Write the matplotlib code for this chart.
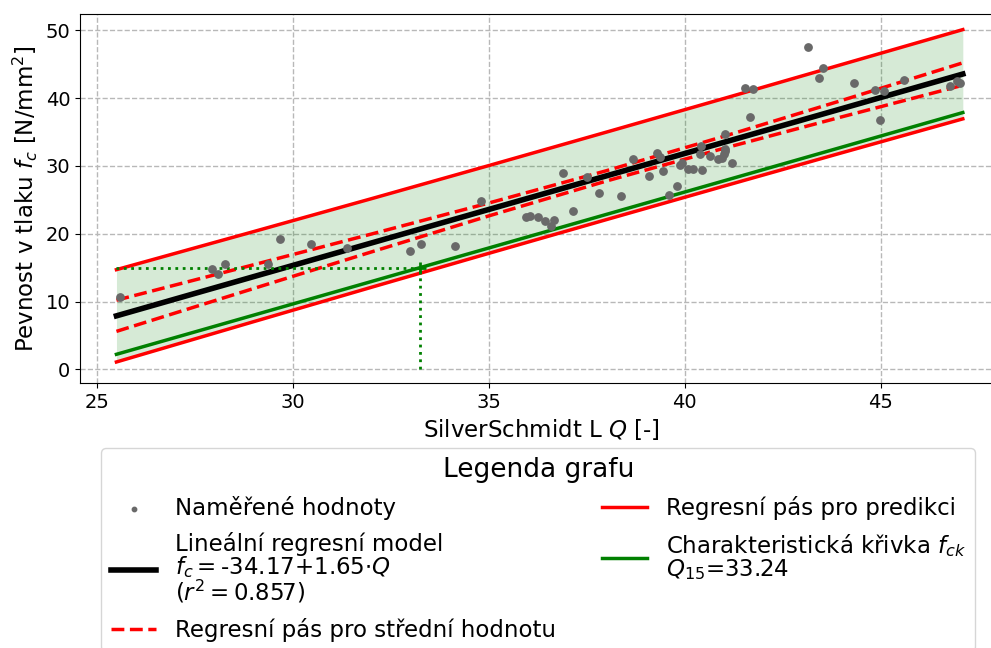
import matplotlib
matplotlib.use("Agg")
import matplotlib.pyplot as plt

# measured points (SilverSchmidt Q, compressive strength fc)
q_meas = [25.60, 27.93, 28.08, 28.28, 29.37, 29.67, 30.46, 31.38, 32.98, 33.28,
          34.14, 34.80, 35.96, 36.06, 36.27, 36.44, 36.60, 36.66, 36.90, 37.16,
          37.50, 37.82, 38.38, 38.68, 39.08, 39.30, 39.36, 39.44, 39.59, 39.81,
          39.87, 39.93, 40.08, 40.21, 40.40, 40.42, 40.44, 40.64, 40.86, 40.96,
          41.00, 41.02, 41.04, 41.04, 41.21, 41.55, 41.66, 41.74, 43.14, 43.43,
          43.52, 44.33, 44.86, 44.98, 45.08, 45.59, 46.78, 46.95, 47.04]
fc_meas = [10.7, 14.75, 14.1, 15.5, 15.6, 19.3, 18.5, 17.9, 17.5, 18.5,
           18.2, 24.8, 22.5, 22.6, 22.5, 21.9, 21.1, 22.0, 28.9, 23.3,
           28.3, 26.0, 25.5, 31.0, 28.5, 31.9, 31.3, 29.3, 25.7, 27.1,
           30.2, 30.4, 29.6, 29.5, 31.8, 32.9, 29.35, 31.45, 31.0, 31.2,
           31.7, 32.2, 32.5, 34.7, 30.5, 41.45, 37.2, 41.3, 47.5, 43.0,
           44.4, 42.2, 41.25, 36.7, 41.05, 42.6, 41.8, 42.5, 42.3]

# model and bands read at a few Q values
q_band = [25.5, 29.0, 32.0, 35.0, 38.0, 41.0, 44.0, 47.1]
fc_model = [7.90, 13.68, 18.63, 23.58, 28.53, 33.48, 38.43, 43.55]
pred_upper = [14.71, 20.32, 25.16, 30.05, 34.98, 39.94, 44.94, 50.10]
pred_lower = [1.10, 7.04, 12.10, 17.11, 22.08, 27.02, 31.92, 36.94]
mean_upper = [10.21, 15.43, 19.95, 24.53, 29.29, 34.36, 39.64, 45.20]
mean_lower = [5.61, 11.93, 17.31, 22.63, 27.77, 32.60, 37.22, 41.90]
fc_char = [2.23, 8.00, 12.95, 17.90, 22.85, 27.80, 32.75, 37.87]

q15 = 33.24
fck_target = 15.0

fig = plt.figure(figsize=(9.91, 6.48), dpi=100)
ax = fig.add_axes([80 / 991, 1 - 383 / 648, 922 / 991, 369 / 648])

ax.fill_between(q_band, pred_lower, pred_upper, color="green", alpha=0.16, lw=0)
ax.scatter(q_meas, fc_meas, s=28, color="dimgray", zorder=3, label="Naměřené hodnoty")
ax.plot(q_band, fc_model, color="black", lw=4,
        label="Lineální regresní model\n$f_c = $-34.17+1.65$\\cdot Q$\n($r^2 = 0.857$)")
ax.plot(q_band, mean_upper, color="red", lw=2.5, ls="--",
        label="Regresní pás pro střední hodnotu")
ax.plot(q_band, mean_lower, color="red", lw=2.5, ls="--")
ax.plot(q_band, pred_upper, color="red", lw=2.5, label="Regresní pás pro predikci")
ax.plot(q_band, pred_lower, color="red", lw=2.5)
ax.plot(q_band, fc_char, color="green", lw=2.5,
        label="Charakteristická křivka $f_{ck}$\n$Q_{15}$=33.24")

# Q15 guide
ax.plot([q_band[0], q15], [fck_target, fck_target], color="green", ls=":", lw=2)
ax.plot([q15, q15], [0, fck_target], color="green", ls=":", lw=2)
ax.plot([q15], [fck_target], marker="+", color="green", ms=8, mew=2)

ax.set_xlim(24.57, 48.1)
ax.set_ylim(-2.0, 52.4)
ax.set_xticks([25, 30, 35, 40, 45])
ax.set_yticks([0, 10, 20, 30, 40, 50])
ax.tick_params(labelsize=14)
ax.grid(True, ls="--", color="0.72", lw=1)
ax.set_axisbelow(True)
ax.set_xlabel("SilverSchmidt L $Q$ [-]", fontsize=16.5)
ax.set_ylabel("Pevnost v tlaku $f_c$ [N/mm$^2$]", fontsize=16.5)

leg = ax.legend(loc="upper center", bbox_to_anchor=(0.497, -0.145), ncol=2,
                fontsize=16.5, title="Legenda grafu", title_fontsize=19,
                frameon=True, markerscale=0.6, columnspacing=2.0,
                labelspacing=0.55)
for t in leg.get_texts():
    t.set_linespacing(0.9)

fig.savefig("out.png", dpi=100)
